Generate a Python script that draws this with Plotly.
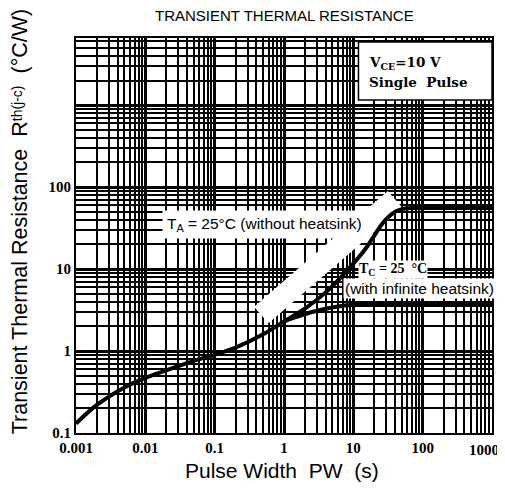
import plotly.graph_objects as go

# Shared part of the curve (both conditions)
shared_pw = [0.001, 0.002, 0.005, 0.01, 0.02, 0.05, 0.1, 0.2, 0.5, 1.0]
shared_r = [0.13, 0.22, 0.36, 0.47, 0.58, 0.76, 0.9, 1.1, 1.6, 2.3]

# Without heatsink (TA = 25 C)
ta_pw = [1.0, 2.0, 4.0, 8.5, 15, 25, 30, 40, 50, 70, 100, 1000]
ta_r = [2.3, 3.3, 5.2, 10, 17.7, 34, 41, 50, 54, 55.5, 55.5, 55.5]

# With infinite heatsink (TC = 25 C)
tc_pw = [1.0, 1.3, 3.0, 7.5, 10, 100, 1000]
tc_r = [2.3, 2.5, 3.1, 3.6, 3.65, 3.65, 3.65]

# white pointer band (decoration)
band_pw = [0.47, 40]
band_r = [2.75, 71]

x_tickvals = [0.001, 0.01, 0.1, 1, 10, 100, 1000]
x_ticktext = ["0.001", "0.01", "0.1", "1", "10", "100", ""]
x_last_label = "1000"
y_tickvals = [0.1, 1, 10, 100, 1000]
y_ticktext = ["0.1", "1", "10", "100", ""]

NB = "\u00a0"

fig = go.Figure()
fig.add_trace(go.Scatter(x=band_pw, y=band_r, mode="lines",
                         line=dict(color="white", width=22), hoverinfo="skip"))
fig.add_trace(go.Scatter(x=shared_pw, y=shared_r, mode="lines",
                         line=dict(color="black", width=4, shape="spline")))
fig.add_trace(go.Scatter(x=ta_pw, y=ta_r, mode="lines",
                         line=dict(color="black", width=4, shape="spline", smoothing=0.6)))
fig.add_trace(go.Scatter(x=tc_pw, y=tc_r, mode="lines",
                         line=dict(color="black", width=4, shape="spline", smoothing=0.6)))

grid_minor = dict(showgrid=True, gridcolor="black", gridwidth=1.5, dtick="D1", ticks="")
tick_font = dict(family="Liberation Serif", size=15, color="black", weight="bold")
fig.update_xaxes(type="log", range=[-3, 3], tickmode="array", tickvals=x_tickvals,
                 ticktext=x_ticktext, showgrid=True, gridcolor="black", gridwidth=2.5,
                 minor=grid_minor, showline=True, linecolor="black", linewidth=2,
                 mirror=True, ticks="", zeroline=False,
                 tickfont=tick_font)
fig.update_yaxes(type="log", range=[-1, 3.82], tickmode="array", tickvals=y_tickvals,
                 ticktext=y_ticktext, showgrid=True, gridcolor="black", gridwidth=2.5,
                 minor=grid_minor, showline=True, linecolor="black", linewidth=2,
                 mirror=True, ticks="", zeroline=False,
                 tickfont=tick_font)

ann = []
ann.append(dict(text=x_last_label, xref="paper", yref="paper", x=1.0215, y=-0.043,
                showarrow=False, xanchor="right", yanchor="middle", font=tick_font))
ann.append(dict(text="TRANSIENT THERMAL RESISTANCE", xref="paper", yref="paper",
                x=0.5, y=1.058, showarrow=False, xanchor="center", yanchor="middle",
                font=dict(family="Liberation Sans", size=15, color="black")))
ann.append(dict(text="Transient Thermal Resistance" + NB * 2
                + "R<span style='font-size:14px;baseline-shift:5px'>th(j-c)</span>"
                + NB * 2 + "(°C/W)",
                xref="paper", yref="paper", x=-0.136, y=0.537, textangle=-90,
                showarrow=False, xanchor="center", yanchor="middle",
                font=dict(family="Liberation Sans", size=21.5, color="black")))
ann.append(dict(text="Pulse Width" + NB * 2 + "PW" + NB * 2 + "(s)", xref="paper", yref="paper",
                x=0.495, y=-0.094, showarrow=False, xanchor="center", yanchor="middle",
                font=dict(family="Liberation Sans", size=21, color="black")))
ann.append(dict(text="T<sub>A</sub> = 25°C (without heatsink)", xref="paper", yref="paper",
                x=0.452, y=0.527, showarrow=False, xanchor="center", yanchor="middle",
                bgcolor="white", borderpad=4,
                font=dict(family="Liberation Sans", size=15.5, color="black")))
ann.append(dict(text="<b>T<sub>C</sub> = 25" + NB * 2 + "°C</b>", xref="paper", yref="paper",
                x=0.763, y=0.415, showarrow=False, xanchor="center", yanchor="middle",
                bgcolor="white", borderpad=0,
                font=dict(family="Liberation Serif", size=14, color="black")))
ann.append(dict(text="(with infinite heatsink)", xref="paper", yref="paper",
                x=0.825, y=0.367, showarrow=False, xanchor="center", yanchor="middle",
                bgcolor="white", borderpad=1,
                font=dict(family="Liberation Sans", size=15.5, color="black")))
ann.append(dict(text="V<sub>CE</sub>=10 V", xref="paper", yref="paper",
                x=0.699, y=0.937, showarrow=False, xanchor="left", yanchor="middle",
                font=dict(family="DejaVu Serif", size=13.5, color="black", weight="bold")))
ann.append(dict(text="Single" + NB * 2 + "Pulse", xref="paper", yref="paper",
                x=0.699, y=0.889, showarrow=False, xanchor="left", yanchor="middle",
                font=dict(family="DejaVu Serif", size=13.5, color="black", weight="bold")))

# The page body adds an 8 px margin, so the figure is sized/margined to compensate.
fig.update_layout(
    width=497, height=483,
    margin=dict(l=68, r=11, t=30, b=58),
    paper_bgcolor="white", plot_bgcolor="white",
    showlegend=False,
    annotations=ann,
    shapes=[dict(type="rect", xref="paper", yref="paper", x0=0.679, x1=1.0,
                 y0=0.843, y1=0.99, fillcolor="white", line=dict(color="black", width=1.5),
                 layer="above")],
)

fig.write_html("out.html")
